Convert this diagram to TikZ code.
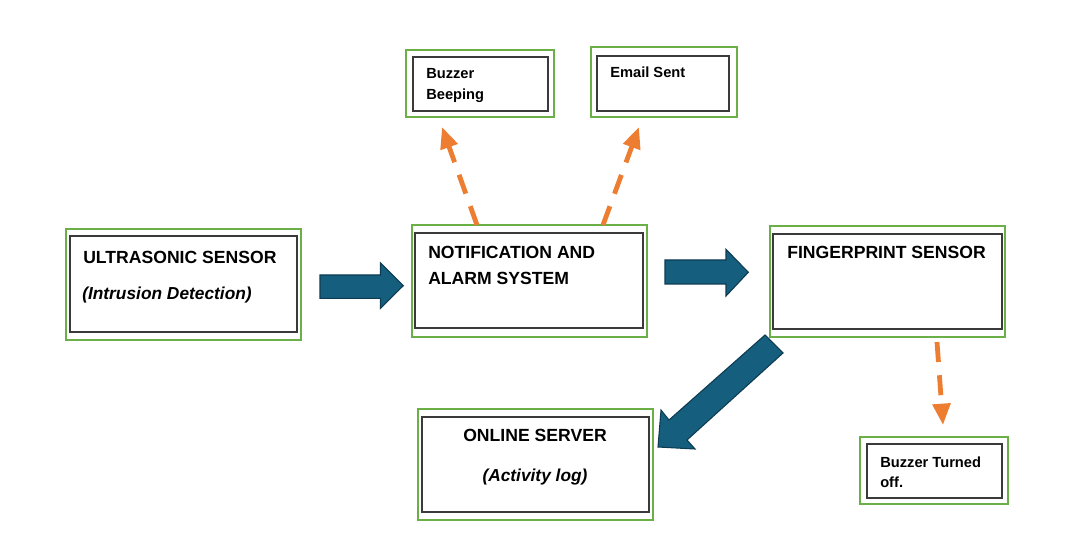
\documentclass[tikz,border=0pt]{standalone}
\usepackage{fontspec}
\setmainfont{Liberation Sans}
\usetikzlibrary{arrows.meta,fit,calc}
\definecolor{boxgreen}{HTML}{6BAF47}
\definecolor{innergray}{HTML}{3A3A3A}
\definecolor{bluefill}{HTML}{165E7D}
\definecolor{blueline}{HTML}{0D3B52}
\definecolor{dashorange}{HTML}{ED7D31}
\tikzset{
  outerbox/.style={draw=boxgreen, line width=1.5pt, inner sep=0pt, fill=white},
  innerbox/.style={draw=innergray, line width=0.8pt, inner sep=0pt},
  bigtxt/.style={font=\fontsize{13.2}{15}\selectfont\bfseries, inner sep=0pt, anchor=base west},
  bigital/.style={font=\fontsize{13}{15}\selectfont\bfseries\itshape, inner sep=0pt, anchor=base west},
  smalltxt/.style={font=\fontsize{11}{13}\selectfont\bfseries, inner sep=0pt, anchor=base west},
  blockarrow/.style={fill=bluefill, draw=blueline, line width=0.8pt, line join=miter},
  dasharrow/.style={draw=dashorange, line width=3.6pt, dash pattern=on 15pt off 10pt,
    -{Triangle[length=16pt,width=13pt]}}
}
\begin{document}
\begin{tikzpicture}[x=0.75pt,y=-0.75pt]
\useasboundingbox[fill=white] (0,0) rectangle (1069,559);

% Ultrasonic sensor
\node[outerbox, fit={(66,229)(301,340)}] (us) {};
\node[innerbox, fit={(70,236)(297,332)}] (usin) {};
\node[bigtxt] (ust1) at (83,263) {ULTRASONIC SENSOR};
\node[bigital] (ust2) at (82,299) {(Intrusion Detection)};

% Notification
\node[outerbox, fit={(412,225)(647,337)}] (no) {};
\node[innerbox, fit={(415,233)(643,328)}] (noin) {};
\node[bigtxt] (not1) at (428,258) {NOTIFICATION AND};
\node[bigtxt] (not2) at (428,284) {ALARM SYSTEM};

% Fingerprint
\node[outerbox, fit={(770,226)(1005,337)}] (fp) {};
\node[innerbox, fit={(773,234)(1002,329)}] (fpin) {};
\node[bigtxt] (fpt) at (787,259) {FINGERPRINT SENSOR};

% Online server
\node[outerbox, fit={(418,409)(653,520)}] (os) {};
\node[innerbox, fit={(422,417)(649,512)}] (osin) {};
\node[bigtxt, anchor=base] (ost1) at (535,441) {ONLINE SERVER};
\node[bigital, anchor=base] (ost2) at (535,481) {(Activity log)};

% Buzzer beeping
\node[outerbox, fit={(406,50)(554,117)}] (bb) {};
\node[innerbox, fit={(413,57)(548,111)}] (bbin) {};
\node[smalltxt] (bbt1) at (426,79) {Buzzer};
\node[smalltxt] (bbt2) at (426,100) {Beeping};

% Email sent
\node[outerbox, fit={(591,47)(737,117)}] (em) {};
\node[innerbox, fit={(597,56)(729,111)}] (emin) {};
\node[smalltxt] (emt) at (610,78) {Email Sent};

% Buzzer turned off
\node[outerbox, fit={(860,437)(1008,504)}] (bo) {};
\node[innerbox, fit={(867,444)(1002,498)}] (boin) {};
\node[smalltxt] (bot1) at (880,467) {Buzzer Turned};
\node[smalltxt] (bot2) at (880,487) {off.};

% Block arrows
\draw[blockarrow] (320,275) -- (380.5,275) -- (380.5,263) -- (403.3,285.7) -- (380.5,308.3) -- (380.5,298.3) -- (320,298.3) -- cycle;
\draw[blockarrow] (665,260) -- (726,260) -- (726,249.3) -- (748.3,272.3) -- (726,296) -- (726,284) -- (665,284) -- cycle;
\draw[blockarrow] (765,335) -- (669,420) -- (661,410) -- (658,447) -- (695,449) -- (687,440) -- (783,353) -- cycle;

% Dashed orange arrows
\coordinate (d1s) at (477,225);
\coordinate (d1e) at (442,127);
\coordinate (d2s) at (603,225);
\coordinate (d2e) at (639,127);
\coordinate (d3s) at (937,342);
\coordinate (d3e) at (943,425);
\draw[dasharrow] (d1s) -- (d1e);
\draw[dasharrow] (d2s) -- (d2e);
\draw[dasharrow] (d3s) -- (d3e);
\end{tikzpicture}
\end{document}
